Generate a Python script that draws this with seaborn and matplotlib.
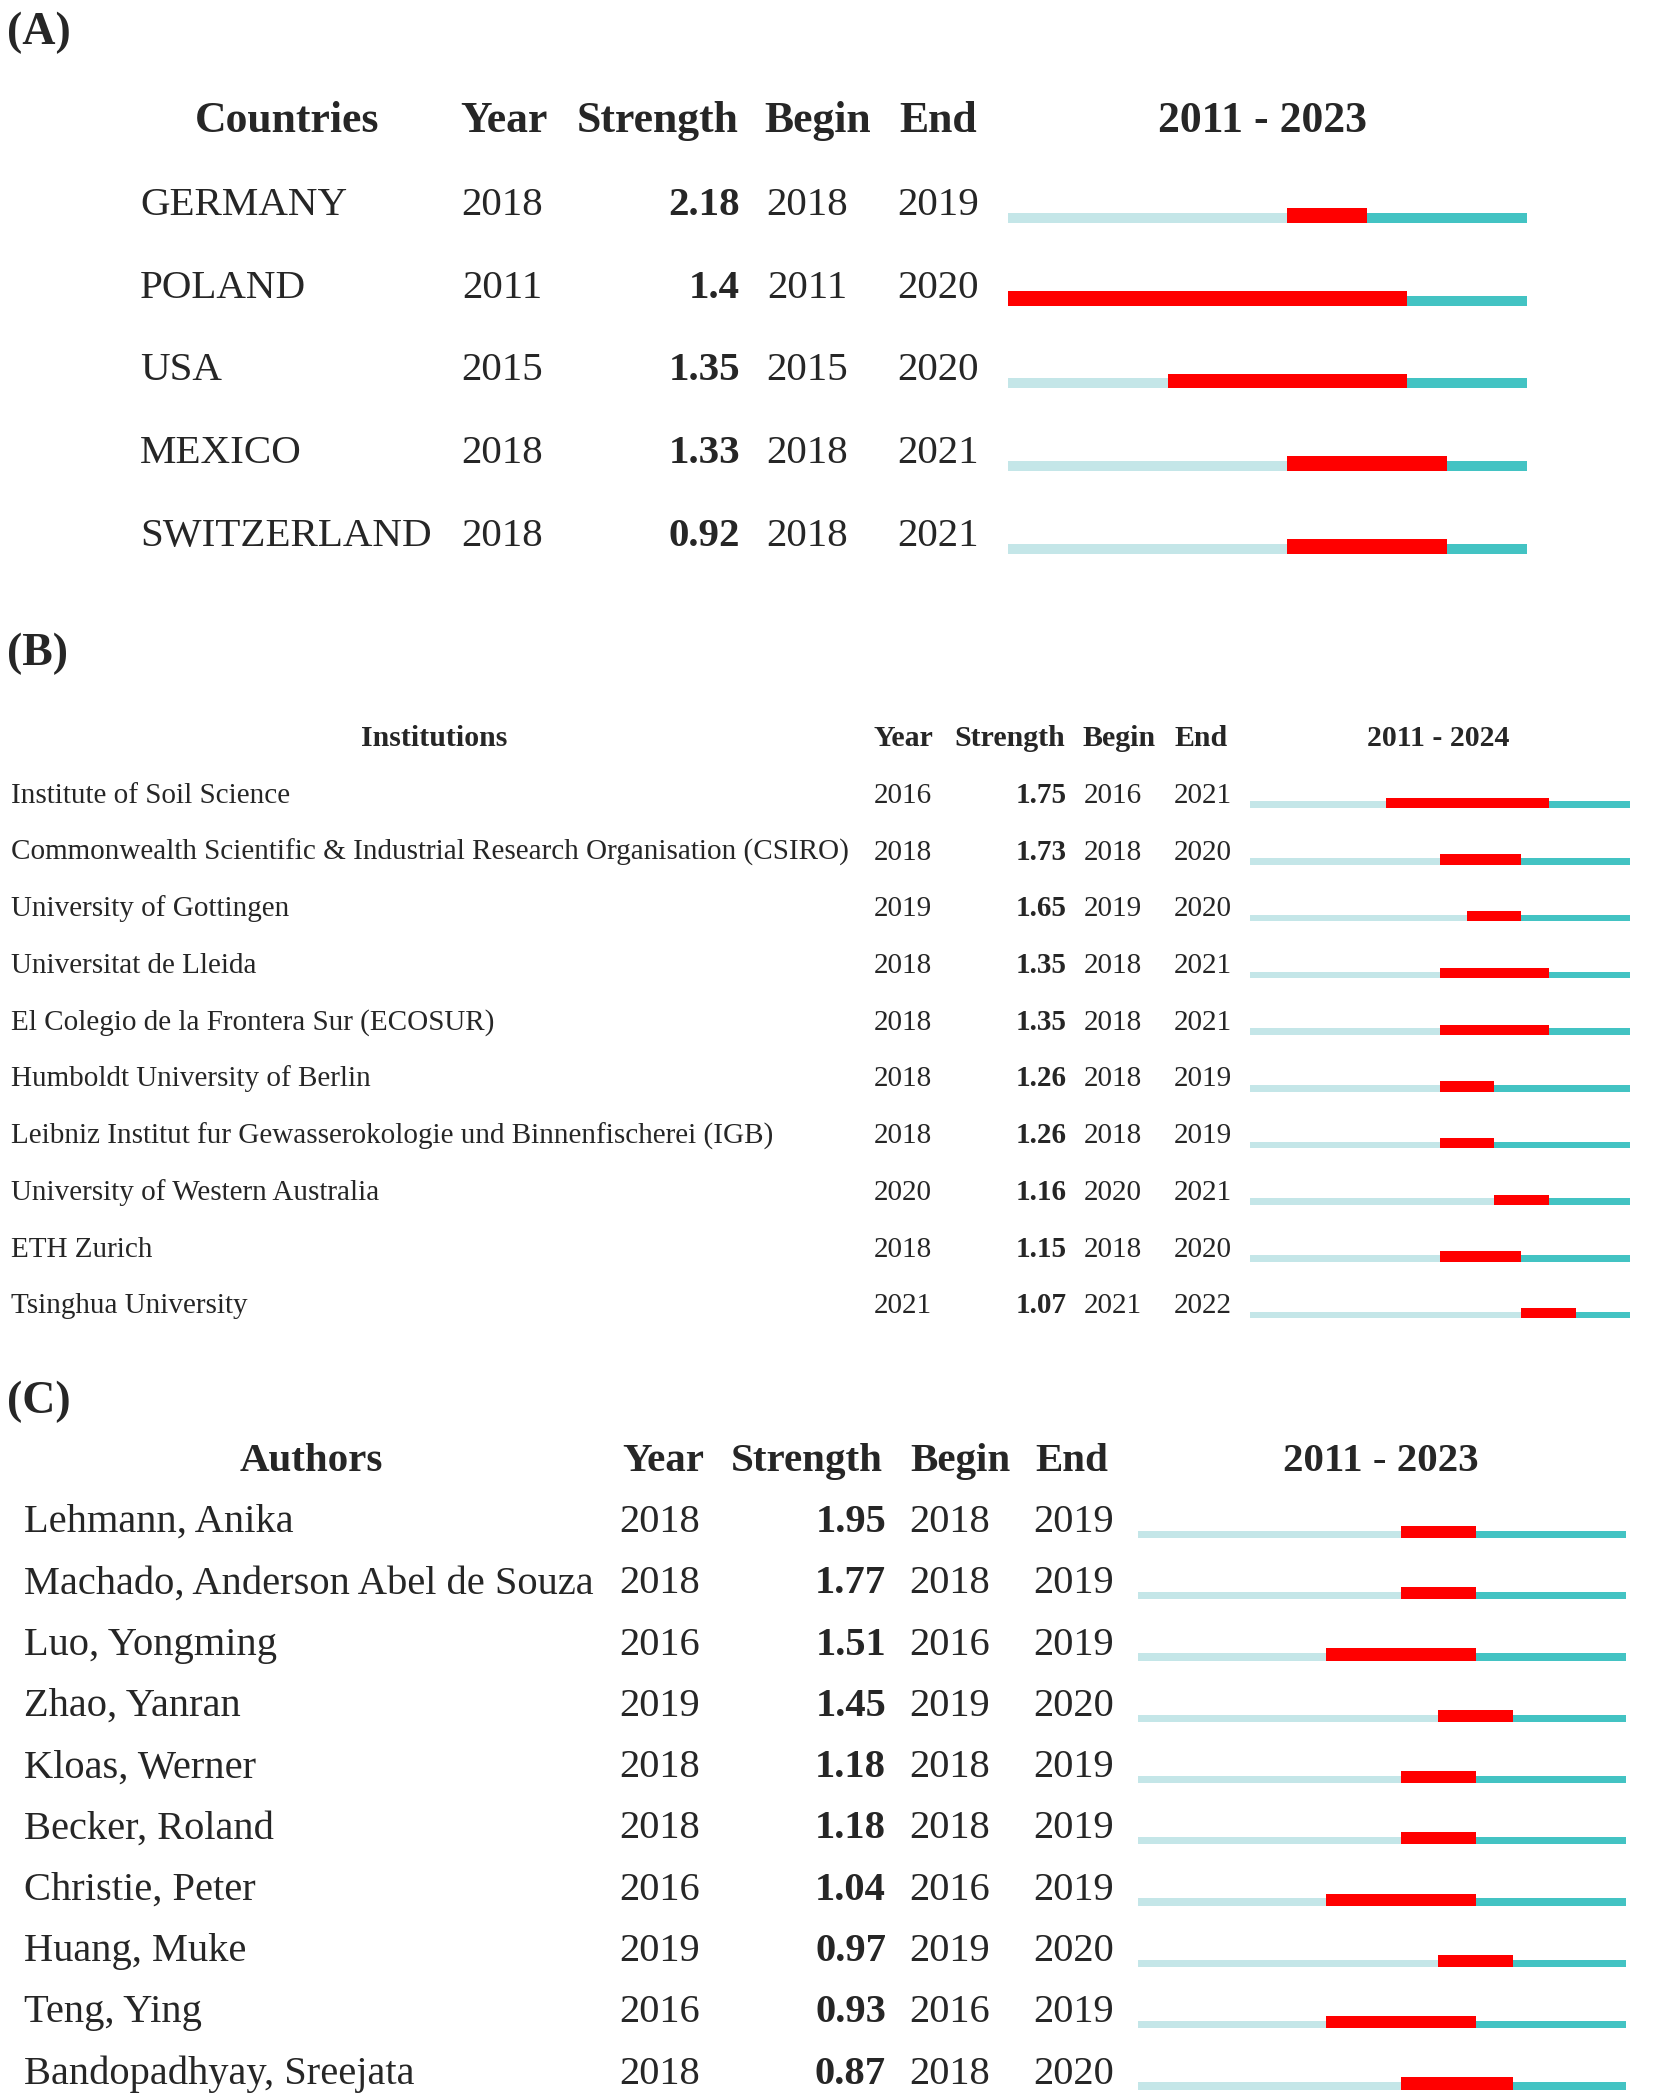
import matplotlib
matplotlib.use("Agg")
import matplotlib.pyplot as plt
import matplotlib.transforms as mtransforms
import numpy as np
import seaborn as sns

# ---- data ----
countries = ["GERMANY", "POLAND", "USA", "MEXICO", "SWITZERLAND"]
countries_year = [2018, 2011, 2015, 2018, 2018]
countries_strength = [2.18, 1.4, 1.35, 1.33, 0.92]
countries_begin = [2018, 2011, 2015, 2018, 2018]
countries_end = [2019, 2020, 2020, 2021, 2021]

institutions = [
    "Institute of Soil Science",
    "Commonwealth Scientific & Industrial Research Organisation (CSIRO)",
    "University of Gottingen",
    "Universitat de Lleida",
    "El Colegio de la Frontera Sur (ECOSUR)",
    "Humboldt University of Berlin",
    "Leibniz Institut fur Gewasserokologie und Binnenfischerei (IGB)",
    "University of Western Australia",
    "ETH Zurich",
    "Tsinghua University",
]
institutions_year = [2016, 2018, 2019, 2018, 2018, 2018, 2018, 2020, 2018, 2021]
institutions_strength = [1.75, 1.73, 1.65, 1.35, 1.35, 1.26, 1.26, 1.16, 1.15, 1.07]
institutions_begin = [2016, 2018, 2019, 2018, 2018, 2018, 2018, 2020, 2018, 2021]
institutions_end = [2021, 2020, 2020, 2021, 2021, 2019, 2019, 2021, 2020, 2022]

authors = [
    "Lehmann, Anika",
    "Machado, Anderson Abel de Souza",
    "Luo, Yongming",
    "Zhao, Yanran",
    "Kloas, Werner",
    "Becker, Roland",
    "Christie, Peter",
    "Huang, Muke",
    "Teng, Ying",
    "Bandopadhyay, Sreejata",
]
authors_year = [2018, 2018, 2016, 2019, 2018, 2018, 2016, 2019, 2016, 2018]
authors_strength = [1.95, 1.77, 1.51, 1.45, 1.18, 1.18, 1.04, 0.97, 0.93, 0.87]
authors_begin = [2018, 2018, 2016, 2019, 2018, 2018, 2016, 2019, 2016, 2018]
authors_end = [2019, 2019, 2019, 2020, 2019, 2019, 2019, 2020, 2019, 2020]

W, H = 1654, 2096
LIGHT = "#c4e6e8"
TEAL = "#43c3c3"
RED = "#ff0000"

sns.set_theme(style="white")
plt.rcParams["font.family"] = ["Liberation Serif", "DejaVu Serif"]

fig = plt.figure(figsize=(W / 100, H / 100), dpi=100)
fig.patch.set_facecolor("white")


def fx(px):
    return px / W


def fy(py):
    return 1 - py / H


def draw_panel(label, label_y, header_y, base0, step, fs, hfs, names, years, strengths,
               begins, ends, first, last, bar_x, cols, name_x, header_name, head_x,
               hl, hr, drop):
    n = len(names)
    top = base0 - step / 2
    ax = fig.add_axes([fx(bar_x[0]), fy(top + n * step), fx(bar_x[1] - bar_x[0]), n * step / H])
    ax.set_xlim(first, last + 1)
    ax.set_ylim(n - 0.5, -0.5)
    ax.axis("off")

    rows = np.arange(n)
    begins = np.array(begins)
    ends = np.array(ends) + 1
    d = drop / step
    c_line = rows + d - hl / 2
    c_red = rows + d - hr / 2
    ax.barh(c_line, begins - first, left=first, height=hl, color=LIGHT, linewidth=0)
    ax.barh(c_line, (last + 1) - ends, left=ends, height=hl, color=TEAL, linewidth=0)
    ax.barh(c_red, ends - begins, left=begins, height=hr, color=RED, linewidth=0)

    tr = mtransforms.blended_transform_factory(fig.transFigure, ax.transData)
    for i in range(n):
        ax.text(fx(name_x), i, names[i], transform=tr, fontsize=fs, va="baseline", ha="left")
        ax.text(fx(cols[0]), i, str(years[i]), transform=tr, fontsize=fs, va="baseline", ha="center")
        ax.text(fx(cols[1]), i, f"{strengths[i]:g}", transform=tr, fontsize=fs, va="baseline",
                ha="right", fontweight="bold")
        ax.text(fx(cols[2]), i, str(begins[i]), transform=tr, fontsize=fs, va="baseline", ha="center")
        ax.text(fx(cols[3]), i, str(ends[i] - 1), transform=tr, fontsize=fs, va="baseline", ha="center")

    fig.text(fx(7), fy(label_y), label, fontsize=33, fontweight="bold", va="baseline", ha="left")
    heads = [header_name, "Year", "Strength", "Begin", "End", f"{first} - {last}"]
    for h, x in zip(heads, head_x):
        fig.text(fx(x), fy(header_y), h, fontsize=hfs, fontweight="bold", va="baseline", ha="center")


draw_panel("(A)", 44, 132, 215, 82.7, 29.5, 31.5, countries, countries_year, countries_strength,
           countries_begin, countries_end, 2011, 2023, (1008, 1527),
           (502, 740, 807, 938), 140, "Countries",
           (287, 504, 658, 818, 938, 1263), 0.12, 0.18, 8)

draw_panel("(B)", 665, 746, 803, 56.7, 21, 21.5, institutions, institutions_year, institutions_strength,
           institutions_begin, institutions_end, 2011, 2024, (1250, 1630),
           (903, 1067, 1113, 1203), 11, "Institutions",
           (434, 903, 1010, 1119, 1201, 1438), 0.115, 0.18, 5)

draw_panel("(C)", 1413, 1471, 1532, 61.3, 29.2, 29.5, authors, authors_year, authors_strength,
           authors_begin, authors_end, 2011, 2023, (1138, 1626),
           (660, 886, 950, 1074), 24, "Authors",
           (311, 663, 807, 960, 1072, 1381), 0.12, 0.2, 6)

fig.savefig("out.png", dpi=100, facecolor="white")
